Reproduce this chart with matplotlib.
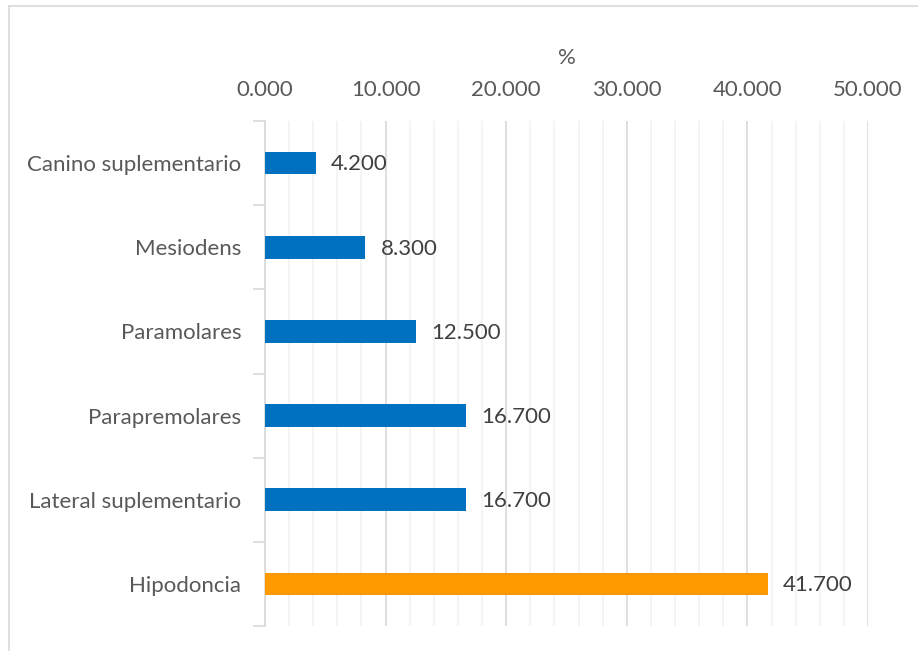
import numpy as np
import matplotlib.pyplot as plt
from matplotlib.lines import Line2D

categories = ["Canino suplementario", "Mesiodens", "Paramolares",
              "Parapremolares", "Lateral suplementario", "Hipodoncia"]
values = [4.2, 8.3, 12.5, 16.7, 16.7, 41.7]
colors = ["#0070c0"] * 5 + ["#ff9900"]
xticks = [0, 10, 20, 30, 40, 50]

plt.rcParams['font.family'] = ['Lato', 'DejaVu Sans']
FS = 16


def main():
    fig = plt.figure(figsize=(9.18, 6.51), dpi=100)
    ax = fig.add_axes([265 / 918, 1 - 626 / 651, (868 - 265) / 918, (626 - 121) / 651])

    y = np.arange(len(categories))
    ax.barh(y, values, height=0.27, color=colors, zorder=3)
    for yi, v in zip(y, values):
        ax.annotate(f"{v:.3f}", (v, yi), xytext=(11, -1), textcoords="offset points",
                    va="center", ha="left", fontsize=FS, color="#404040")

    ax.set_ylim(len(categories) - 0.5, -0.5)
    ax.set_xlim(0, 50)
    ax.set_yticks(y)
    ax.set_yticklabels(categories, fontsize=FS, color="#595959")
    ax.tick_params(axis="y", length=0, pad=17)
    # tick marks between categories
    ax.set_yticks(np.arange(-0.5, len(categories)), minor=True)
    ax.tick_params(axis="y", which="minor", length=9, color="#d9d9d9", width=1.2)

    ax.xaxis.tick_top()
    ax.xaxis.set_label_position("top")
    ax.set_xticks(xticks)
    ax.set_xticklabels([f"{t:.3f}" for t in xticks], fontsize=FS, color="#595959")
    ax.set_xticks(np.arange(0, 51, 2), minor=True)
    ax.tick_params(axis="x", which="both", length=0, pad=15)
    ax.set_xlabel("%", fontsize=FS, color="#595959", labelpad=12)

    ax.grid(axis="x", which="major", color="#d9d9d9", linewidth=1.2, zorder=0)
    ax.grid(axis="x", which="minor", color="#f2f2f2", linewidth=1.2, zorder=0)

    for s in ["top", "right", "bottom"]:
        ax.spines[s].set_visible(False)
    ax.spines["left"].set_color("#d9d9d9")
    ax.spines["left"].set_linewidth(1.2)

    # chart area border (left and top edges visible)
    fig.add_artist(Line2D([9 / 918, 9 / 918], [0, 1 - 6 / 651], color="#d9d9d9", lw=1.2))
    fig.add_artist(Line2D([9 / 918, 1], [1 - 6 / 651, 1 - 6 / 651], color="#d9d9d9", lw=1.2))

    fig.savefig("out.png", dpi=100)


if __name__ == '__main__':
    main()
